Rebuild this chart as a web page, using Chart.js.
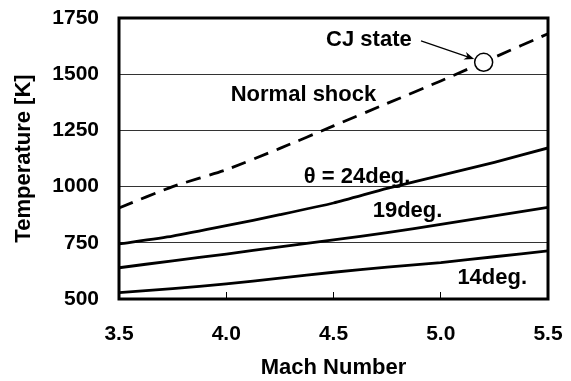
<!DOCTYPE html>
<html><head><meta charset="utf-8">
<script src="https://cdn.jsdelivr.net/npm/chart.js@4/dist/chart.umd.min.js"></script>
<style>html,body{margin:0;padding:0;background:#fff;}</style>
</head><body>
<canvas id="c" width="571" height="381"></canvas>
<script>
const machNumbers = [3.5, 3.75, 4.0, 4.25, 4.5, 4.75, 5.0, 5.25, 5.5];
const normalShock = [905, 1000, 1075, 1170, 1270, 1370, 1470, 1575, 1680];
const theta24 = [745, 780, 826, 875, 927, 992, 1050, 1108, 1172];
const theta19 = [639, 670, 700, 732, 763, 795, 832, 870, 908];
const theta14 = [528, 546, 567, 593, 619, 642, 662, 688, 714];
const cjMach = [5.2];
const cjTemp = [1553];
const xTickLabels = ['3.5', '4.0', '4.5', '5.0', '5.5'];
const yTickLabels = ['500', '750', '1000', '1250', '1500', '1750'];
const labelTexts = ['CJ state', 'Normal shock', '\u03B8 = 24deg.', '19deg.', '14deg.'];
const labelMach = [4.665, 4.36, 4.61, 4.845, 5.24];
const labelTemp = [1652, 1408, 1043, 892, 593];
const arrowFrom = [4.908, 1648];

const FONT = '"Liberation Sans", Arial, sans-serif';
const pts = (xs, ys) => xs.map((x, i) => ({x: x, y: ys[i]}));

const decor = {
  id: 'decor',
  afterDatasetsDraw(chart) {
    const {ctx, chartArea: a, scales: {x, y}} = chart;
    ctx.save();
    ctx.strokeStyle = '#000';
    ctx.lineWidth = 3;
    ctx.strokeRect(a.left, a.top, a.right - a.left, a.bottom - a.top);
    ctx.fillStyle = '#000';
    ctx.font = 'bold 22px ' + FONT;
    ctx.textAlign = 'center';
    ctx.textBaseline = 'middle';
    labelTexts.forEach((t, i) => {
      ctx.fillText(t, x.getPixelForValue(labelMach[i]), y.getPixelForValue(labelTemp[i]));
    });
    const sx = x.getPixelForValue(arrowFrom[0]), sy = y.getPixelForValue(arrowFrom[1]);
    const cx = x.getPixelForValue(cjMach[0]), cy = y.getPixelForValue(cjTemp[0]);
    const dx = cx - sx, dy = cy - sy, d = Math.hypot(dx, dy);
    const ux = dx / d, uy = dy / d;
    const tx = cx - ux * 10, ty = cy - uy * 10;
    ctx.lineWidth = 1.2;
    ctx.beginPath();
    ctx.moveTo(sx, sy);
    ctx.lineTo(tx - ux * 6, ty - uy * 6);
    ctx.stroke();
    ctx.beginPath();
    ctx.moveTo(tx, ty);
    ctx.lineTo(tx - ux * 10 - uy * 4, ty - uy * 10 + ux * 4);
    ctx.lineTo(tx - ux * 7, ty - uy * 7);
    ctx.lineTo(tx - ux * 10 + uy * 4, ty - uy * 10 - ux * 4);
    ctx.closePath();
    ctx.fill();
    ctx.restore();
  }
};

const lineDs = (data, dash) => ({
  type: 'line', data: data, borderColor: '#000', borderWidth: 2.8,
  borderDash: dash, pointRadius: 0, tension: 0.2, fill: false, order: 2
});

new Chart(document.getElementById('c'), {
  type: 'line',
  data: {
    datasets: [
      {type: 'scatter', data: pts(cjMach, cjTemp), pointRadius: 9, pointBorderWidth: 1.5,
       pointBackgroundColor: '#fff', pointBorderColor: '#000', order: 0},
      lineDs(pts(machNumbers, normalShock), [15, 9]),
      lineDs(pts(machNumbers, theta24), []),
      lineDs(pts(machNumbers, theta19), []),
      lineDs(pts(machNumbers, theta14), [])
    ]
  },
  plugins: [decor],
  options: {
    responsive: false,
    animation: false,
    devicePixelRatio: 1,
    layout: {padding: {left: 0, right: 23, top: 18, bottom: 0}},
    plugins: {legend: {display: false}, tooltip: {enabled: false}},
    scales: {
      x: {
        type: 'linear', min: 3.5, max: 5.5,
        afterFit: s => { s.height = 82; s.paddingLeft = 0; s.paddingRight = 0; },
        border: {display: false},
        grid: {drawOnChartArea: false, drawTicks: true, tickLength: -7, color: '#000', lineWidth: 1},
        ticks: {stepSize: 0.5, padding: 30, color: '#000', font: {family: FONT, size: 21, weight: 'bold'},
                callback: (v, i) => xTickLabels[i], maxRotation: 0, autoSkip: false},
        title: {display: true, text: 'Mach Number', color: '#000', padding: {top: 0, bottom: 0},
                font: {family: FONT, size: 22, weight: 'bold'}}
      },
      y: {
        min: 500, max: 1750,
        afterFit: s => { s.width = 119; s.paddingTop = 0; s.paddingBottom = 0; },
        border: {display: false},
        grid: {drawTicks: false, color: '#333', lineWidth: 1},
        ticks: {stepSize: 250, padding: 20, color: '#000', font: {family: FONT, size: 21, weight: 'bold'},
                callback: (v, i) => yTickLabels[i]},
        title: {display: true, text: 'Temperature [K]', color: '#000', padding: {top: 11, bottom: 0},
                font: {family: FONT, size: 22, weight: 'bold'}}
      }
    }
  }
});
</script>
</body></html>
